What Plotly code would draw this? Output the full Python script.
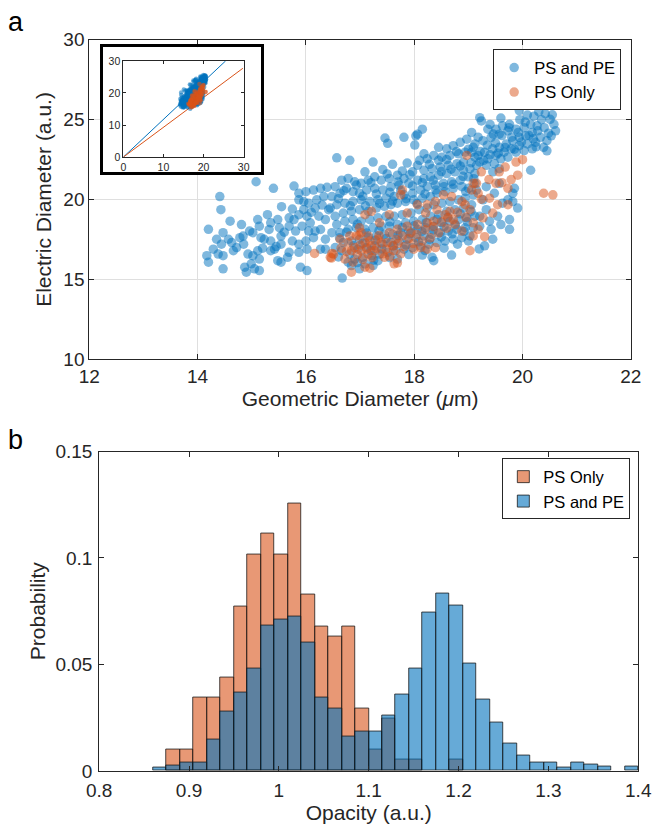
import plotly.graph_objects as go

# ---------------- data: scatter (Geometric vs Electric diameter) ----------------
ps_pe_xy = [
    (15.08,21.11),(15.40,20.70),(15.78,20.84),(14.41,20.18),(14.43,19.36),(15.87,20.39),(16.00,20.49),(16.14,20.59),(16.27,20.70),(16.39,20.76),
    (14.20,18.13),(14.60,18.64),(14.81,18.43),(14.47,17.92),(14.35,17.51),(14.57,17.51),(14.44,17.20),(14.29,16.89),(14.63,17.30),(14.78,17.61),
    (14.72,16.99),(14.17,16.48),(14.20,16.07),(14.38,16.58),(14.47,16.48),(14.66,16.79),(14.84,17.71),(14.96,18.02),(15.11,18.74),(15.14,18.33),
    (15.02,17.92),(15.17,17.61),(15.29,19.05),(15.35,18.54),(15.48,18.74),(15.32,18.12),(15.23,17.51),(15.35,17.40),(15.51,18.23),(15.54,17.71),
    (15.42,16.89),(15.35,16.79),(15.54,17.20),(15.69,18.85),(15.78,18.74),(15.87,19.05),(15.96,19.36),(16.02,18.95),(16.08,18.54),(16.17,19.46),
    (16.24,18.95),(16.36,18.74),(16.42,19.36),(15.69,18.33),(15.81,18.02),(15.93,18.33),(16.05,18.02),(16.17,18.02),(16.27,18.12),(16.36,17.51),
    (15.75,17.40),(15.87,17.20),(16.00,17.40),(16.14,17.61),(15.69,16.69),(15.87,16.69),(16.02,16.89),(16.27,16.89),(16.36,16.89),(14.93,16.58),
    (15.02,16.48),(15.11,16.79),(15.14,16.27),(14.99,15.97),(14.87,15.76),(15.05,15.66),(14.90,15.45),(15.14,15.55),(14.47,15.66),(15.48,16.17),
    (15.54,16.07),(15.66,16.38),(15.90,15.76),(16.02,15.55),(15.87,19.98),(15.96,19.87),(16.05,19.77),(16.20,19.98),(16.33,20.18),
    (17.46,23.85),(17.51,23.52),(17.81,23.89),(18.03,23.99),(18.01,23.41),(16.57,22.61),(16.81,22.45),(17.24,22.34),(17.09,21.73),(17.42,21.87),
    (17.60,22.20),(17.87,22.28),(17.78,21.79),(18.18,22.86),(18.24,22.55),(18.45,23.27),(18.60,23.17),(18.72,23.37),(18.85,23.58),(18.97,23.78),
    (19.09,23.27),(19.12,22.65),(18.36,22.76),(18.51,22.65),(18.66,22.76),(18.82,22.86),(18.94,22.96),(19.06,22.96),(18.91,22.34),(18.79,22.24),
    (18.63,22.14),(18.48,22.04),(18.33,21.93),(18.18,21.83),(18.06,22.14),(17.97,21.73),(17.81,21.32),(17.69,21.52),(17.54,21.32),(17.39,21.21),
    (17.27,21.42),(17.15,21.21),(17.02,21.01),(16.90,21.11),(16.78,21.32),(16.66,21.21),(16.54,20.80),(16.48,20.18),(16.63,20.39),(16.75,20.70),
    (16.87,20.49),(16.99,20.39),(17.12,20.60),(17.27,20.70),(17.42,20.60),(17.57,20.80),(17.72,20.90),(17.90,21.01),(18.06,21.21),(18.18,21.32),
    (18.30,21.42),(18.45,21.52),(18.60,21.62),(18.75,21.73),(18.91,21.83),(19.03,21.93),(19.12,21.62),(19.00,21.42),(18.85,21.21),(18.69,21.11),
    (18.54,21.01),(18.39,20.90),(18.24,20.80),(18.12,20.60),(17.97,20.39),(17.81,20.29),(17.63,20.18),(17.48,20.08),(17.33,19.98),(17.18,19.87),
    (17.02,19.98),(16.87,19.87),(16.72,19.77),(16.57,19.67),(16.45,19.46),(16.54,18.95),(16.69,19.15),(16.84,19.26),(16.99,19.36),(17.15,19.26),
    (17.30,19.46),(17.45,19.57),(17.57,19.67),(17.69,19.77),(17.84,19.87),(17.99,19.98),(18.15,20.08),(18.30,20.18),(18.42,20.39),(18.57,20.49),
    (18.72,20.70),(18.88,20.80),(19.00,20.70),(19.12,21.01),(19.09,20.29),(18.94,20.08),(18.82,19.98),(18.66,19.87),(18.51,19.77),(18.36,19.67),
    (18.24,19.46),(18.09,19.36),(17.94,19.15),(17.78,19.05),(17.63,18.95),(17.48,18.95),(17.33,18.85),(17.18,18.74),(17.02,18.64),(16.87,18.74),
    (16.72,18.64),(16.57,18.43),(16.48,17.92),(16.63,17.92),(16.78,18.13),(16.93,18.23),(17.09,18.13),(17.24,18.23),(17.39,18.33),(17.54,18.33),
    (17.69,18.43),(17.84,18.54),(17.99,18.64),(18.15,18.74),(18.30,18.95),(18.45,19.05),(18.60,19.26),(18.75,19.36),(18.91,19.46),(19.06,19.67),
    (19.12,18.95),(18.97,18.85),(18.82,18.74),(18.66,18.64),(18.51,18.54),(18.36,18.33),(18.21,18.23),(18.06,18.13),(17.90,18.02),(17.75,17.92),
    (17.60,17.82),(17.45,17.82),(17.30,17.72),(17.15,17.61),(16.99,17.51),(16.84,17.40),(16.69,17.30),(16.54,16.99),(16.66,16.79),(16.81,16.58),
    (16.96,16.89),(17.12,16.99),(17.27,17.10),(17.42,17.20),(17.57,17.30),(17.72,17.40),(17.87,17.51),(18.03,17.61),(18.18,17.72),(18.33,17.82),
    (18.48,17.92),(18.63,18.02),(18.79,18.13),(18.94,18.23),(19.09,18.23),(19.03,17.72),(18.88,17.61),(18.72,17.51),(18.57,17.40),(18.42,17.30),
    (18.27,17.20),(18.12,17.10),(17.97,16.99),(17.81,16.89),(17.66,16.79),(17.51,16.69),(17.36,16.58),(17.21,16.48),(17.05,16.38),(16.90,16.27),
    (16.78,16.07),(16.84,15.86),(17.09,15.97),(17.33,16.17),(17.69,16.27),(18.15,16.52),(18.33,16.38),(18.36,16.17),(18.69,16.52),(16.67,15.08),
    (16.99,15.66),(17.24,15.86),(18.15,24.40),(18.06,24.09),(19.20,16.90),(19.30,17.10),
    (19.94,25.57),(19.21,25.12),(19.24,24.92),(20.09,25.29),(20.21,25.22),(20.42,25.37),(20.51,25.02),(20.58,24.71),(20.61,24.30),(20.53,23.99),
    (20.45,23.68),(20.39,23.27),(20.27,24.61),(20.15,24.71),(20.03,24.50),(19.88,24.40),(19.73,24.30),(19.57,24.09),(19.42,23.89),(19.27,23.68),
    (19.12,23.48),(19.06,24.20),(19.36,24.40),(19.51,24.40),(19.63,24.61),(19.76,24.71),(20.18,24.20),(20.06,23.99),(19.94,23.89),(19.82,23.68),
    (19.70,23.48),(19.57,23.27),(19.45,23.17),(19.30,22.96),(19.18,22.76),(19.21,22.34),(19.36,22.55),(19.51,22.76),(19.66,22.96),(19.79,23.17),
    (19.94,23.37),(20.09,23.48),(20.24,23.58),(20.33,23.89),(20.18,23.17),(20.03,23.06),(19.88,22.96),(19.73,22.65),(19.60,22.55),(19.48,22.24),
    (19.45,21.73),(19.57,21.93),(19.33,22.14),(19.15,22.14),(20.15,21.83),(19.85,20.70),(19.82,20.39),(19.73,19.98),(19.63,19.77),(19.82,19.87),
    (19.91,19.46),(19.76,18.74),(19.54,18.95),(19.39,18.64),(19.21,18.95),(19.21,18.33),(19.76,18.13),(19.42,18.13),(19.45,17.51),(19.60,18.43),
    (19.33,19.36),(19.48,20.39),(19.27,19.98),(19.57,21.01),(19.33,20.80),(19.15,20.59),
    # denser parts of the upper band
    (16.60,20.05),(16.70,20.55),(16.82,19.60),(16.93,20.90),(17.05,20.20),(17.10,19.60),(17.20,21.05),(17.30,20.35),(17.36,19.75),(17.50,21.60),
    (17.55,20.45),(17.60,19.90),(17.70,21.10),(17.75,20.55),(17.85,20.05),(17.92,21.55),(17.97,20.85),(18.05,19.75),(18.10,22.45),(18.15,21.05),
    (18.20,20.35),(18.28,22.20),(18.35,21.20),(18.40,20.60),(18.45,22.45),(18.50,21.75),(18.55,20.80),(18.60,22.50),(18.68,21.90),(18.72,20.95),
    (18.78,23.00),(18.85,22.10),(18.90,21.45),(18.95,20.50),(19.00,23.15),(19.05,22.30),(19.10,21.30),(19.18,23.90),(19.22,23.00),(19.28,22.45),
    (19.35,23.40),(19.40,22.80),(19.46,24.10),(19.50,23.55),(19.55,22.90),(19.62,24.00),(19.68,23.25),(19.75,24.50),(19.80,23.90),(19.85,23.15),
    (19.92,24.20),(19.98,23.60),(20.05,24.85),(20.12,24.00),(20.20,23.80),(20.28,24.30),(20.35,25.00),(20.40,24.50),(20.48,24.15),(20.55,25.30),
    (19.95,25.00),(20.30,25.50),(19.60,25.10),(19.40,24.70),(20.45,23.05),(20.25,23.30),
    # denser parts of the lower band
    (16.62,17.60),(16.75,17.95),(16.88,17.10),(16.95,18.45),(17.05,17.25),(17.12,17.90),(17.20,16.80),(17.28,17.45),(17.35,18.05),(17.40,16.90),
    (17.48,17.55),(17.55,18.60),(17.62,17.10),(17.70,17.75),(17.78,18.25),(17.85,17.15),(17.92,17.85),(18.00,18.35),(18.08,17.35),(18.14,18.00),
    (18.22,18.55),(18.28,17.50),(18.35,18.10),(18.42,18.75),(18.50,17.65),(18.55,18.30),(18.62,18.90),(18.70,17.85),(18.76,18.40),(18.85,19.10),
    (18.92,18.00),(18.98,18.60),(19.05,19.25),(19.00,17.40),(18.80,17.20),(18.55,16.95),(18.20,16.80),(17.90,16.55),(17.55,16.35),(17.25,16.20),
    (16.95,16.05),(16.60,16.40),
    (15.60,17.95),(15.45,17.05),(15.20,16.95),(14.85,17.20),(15.75,19.40),(16.10,19.20),(16.30,19.65),(15.55,19.55),
]

ps_only_xy = [
    (16.16,16.62),(16.48,16.62),(16.47,16.33),
    (18.97,22.76),(19.09,21.01),(19.06,20.60),(18.88,19.87),(18.94,19.67),(19.03,19.36),(18.54,20.29),(18.69,20.18),(18.39,19.87),(18.24,19.67),
    (18.06,19.67),(17.87,19.15),(17.78,20.60),(17.75,20.29),(17.54,19.05),(17.21,19.26),(17.09,19.05),(17.36,18.54),(16.99,18.23),(17.02,17.92),
    (16.93,17.72),(17.15,17.72),(17.09,17.30),(17.21,17.10),(17.27,16.79),(17.15,16.58),(17.02,16.79),(16.90,16.99),(16.78,17.30),(16.84,16.79),
    (16.72,16.27),(16.87,16.07),(16.51,16.58),(16.45,16.38),(17.09,15.76),(17.18,15.70),(17.63,15.97),(17.69,16.03),(16.84,15.45),(17.39,17.30),
    (17.48,16.89),(17.60,17.10),(17.66,17.51),(17.78,17.72),(17.94,17.92),(17.87,18.33),(18.06,18.43),(18.24,18.54),(18.36,18.64),(18.21,19.15),
    (18.42,19.36),(18.57,19.05),(18.66,19.26),(18.72,18.74),(18.88,18.02),(19.09,18.54),(19.09,17.72),(19.03,16.79),(17.99,16.89),(18.12,16.99),
    (18.24,16.89),(18.39,16.99),(17.45,16.38),(17.33,17.51),(17.54,17.92),(17.69,18.13),(16.81,17.72),(16.63,17.51),
    (19.88,22.34),(20.00,22.49),(19.24,21.73),(19.38,21.25),(19.51,21.01),(19.62,21.05),(19.79,21.25),(19.91,21.52),(19.73,20.70),(19.68,22.03),
    (19.57,21.73),(19.15,21.01),(19.18,20.39),(19.24,20.02),(19.54,19.67),(19.45,19.15),(19.27,18.85),(19.18,18.13),(19.30,17.67),(20.39,20.39),
    (20.56,20.29),(19.39,20.08),(19.73,19.67),
    (16.95,16.55),(17.00,17.15),(17.05,16.25),(17.12,16.90),(17.18,17.40),(17.22,16.35),(17.30,16.95),(17.35,17.75),(17.42,16.60),(17.50,17.30),
    (17.55,16.45),(17.62,16.80),(17.70,17.25),(17.75,16.60),(17.82,17.05),(17.90,17.55),(17.98,17.25),(18.05,17.80),(18.15,17.40),(18.20,18.10),
    (18.30,17.60),(18.35,18.30),(18.45,17.90),(18.50,18.60),(18.60,18.20),(18.62,18.85),(18.75,18.45),(18.80,19.20),(18.95,18.90),(16.98,17.75),
    (16.75,16.75),(16.65,16.95),
]

# fitted lines shown in the inset (from origin)
fit_ps_pe_x = [0, 25.5]
fit_ps_pe_y = [0, 30]
fit_ps_only_x = [0, 29.8]
fit_ps_only_y = [0, 27.7]

# ---------------- data: opacity histograms (probability) ----------------
bin_left = [0.860, 0.875, 0.890, 0.905, 0.920, 0.935, 0.950, 0.965, 0.980, 0.995,
            1.010, 1.025, 1.040, 1.055, 1.070, 1.085, 1.100, 1.115, 1.130, 1.145,
            1.160, 1.175, 1.190, 1.205, 1.220, 1.235, 1.250, 1.265, 1.280, 1.295,
            1.310, 1.325, 1.340, 1.355, 1.370, 1.385]
bin_width = 0.015
prob_ps_only = [0, 0.0100, 0.0100, 0.0343, 0.0343, 0.0440, 0.0773, 0.1017, 0.1113, 0.1017,
                0.1255, 0.0826, 0.0677, 0.0631, 0.0677, 0.0293, 0.0100, 0.0244, 0.0054, 0.0054,
                0, 0, 0.0054, 0, 0, 0, 0, 0, 0, 0,
                0, 0, 0, 0, 0, 0]
prob_ps_pe = [0.0017, 0.0023, 0.0040, 0.0040, 0.0147, 0.0278, 0.0366, 0.0481, 0.0685, 0.0711,
              0.0727, 0.0605, 0.0343, 0.0293, 0.0162, 0.0185, 0.0185, 0.0262, 0.0358, 0.0481,
              0.0744, 0.0835, 0.0778, 0.0503, 0.0335, 0.0227, 0.0128, 0.0073, 0.0038, 0.0038,
              0.0017, 0.0038, 0.0029, 0.0020, 0, 0.0020]

x_ticks_a = [12, 14, 16, 18, 20, 22]
y_ticks_a = [10, 15, 20, 25, 30]
x_ticks_b = [0.8, 0.9, 1.0, 1.1, 1.2, 1.3, 1.4]
x_ticktext_b = ["0.8", "0.9", "1", "1.1", "1.2", "1.3", "1.4"]
y_ticks_b = [0, 0.05, 0.1, 0.15]
y_ticktext_b = ["0", "0.05", "0.1", "0.15"]
inset_ticks = [0, 10, 20, 30]

# ---------------- style / layout helpers ----------------
W, H = 661, 835
FONT = "Liberation Sans, Arial, Helvetica, sans-serif"
AX = "#262626"
BLUE = "rgba(0,114,189,0.5)"
ORANGE = "rgba(217,83,25,0.5)"


def px_x(p):
    return p / W


def px_y(p):
    return 1 - p / H


bx = [p[0] for p in ps_pe_xy]
by = [p[1] for p in ps_pe_xy]
ox = [p[0] for p in ps_only_xy]
oy = [p[1] for p in ps_only_xy]

fig = go.Figure()

# main scatter
fig.add_trace(go.Scatter(x=bx, y=by, mode="markers", name="PS and PE",
                         marker=dict(size=9.5, color=BLUE, line=dict(width=0)),
                         xaxis="x", yaxis="y", legend="legend"))
fig.add_trace(go.Scatter(x=ox, y=oy, mode="markers", name="PS Only",
                         marker=dict(size=9.5, color=ORANGE, line=dict(width=0)),
                         xaxis="x", yaxis="y", legend="legend"))

# histogram (orange first, blue on top)
centers = [b + bin_width / 2 for b in bin_left]
edge = dict(color="rgba(20,20,20,0.85)", width=0.9)
fig.add_trace(go.Bar(x=centers, y=[v if v > 0 else None for v in prob_ps_only], width=bin_width,
                     name="PS Only", marker=dict(color="rgba(217,83,25,0.6)", line=edge),
                     xaxis="x2", yaxis="y2", legend="legend2"))
fig.add_trace(go.Bar(x=centers, y=[v if v > 0 else None for v in prob_ps_pe], width=bin_width,
                     name="PS and PE", marker=dict(color="rgba(0,114,189,0.6)", line=edge),
                     xaxis="x2", yaxis="y2", legend="legend2"))

# inset frame (empty subplot providing white background + thick border)
fig.add_trace(go.Scatter(x=[], y=[], xaxis="x3", yaxis="y3", showlegend=False))

# inset content
fig.add_trace(go.Scatter(x=fit_ps_pe_x, y=fit_ps_pe_y, mode="lines", line=dict(color="#0072BD", width=1),
                         xaxis="x4", yaxis="y4", showlegend=False))
fig.add_trace(go.Scatter(x=fit_ps_only_x, y=fit_ps_only_y, mode="lines", line=dict(color="#D95319", width=1),
                         xaxis="x4", yaxis="y4", showlegend=False))
fig.add_trace(go.Scatter(x=bx, y=by, mode="markers", marker=dict(size=4.5, color="rgba(0,114,189,0.55)"),
                         xaxis="x4", yaxis="y4", showlegend=False))
fig.add_trace(go.Scatter(x=ox, y=oy, mode="markers", marker=dict(size=4.5, color="rgba(217,83,25,0.55)"),
                         xaxis="x4", yaxis="y4", showlegend=False))

tickfont = dict(family=FONT, size=19, color=AX)
titlefont = dict(family=FONT, size=21, color=AX)

common = dict(showline=True, linecolor=AX, linewidth=1, mirror="ticks", ticks="inside",
              ticklen=5, tickcolor=AX, zeroline=False, tickfont=tickfont, automargin=False)
inset_common = dict(range=[0, 30], tickvals=inset_ticks, showline=True, linecolor=AX, linewidth=1,
                    mirror="ticks", ticks="inside", ticklen=3, tickcolor=AX, showgrid=False,
                    zeroline=False, tickfont=dict(family=FONT, size=10.5, color=AX))
frame_common = dict(range=[0, 1], showline=True, mirror=True, linecolor="black", linewidth=2.5,
                    showticklabels=False, ticks="", showgrid=False, zeroline=False, fixedrange=True)
legend_common = dict(xanchor="right", yanchor="top", bgcolor="white", bordercolor=AX, borderwidth=1,
                     font=dict(family=FONT, size=16.5, color="black"), tracegroupgap=0, itemwidth=30)

fig.update_layout(
    width=W, height=H,
    margin=dict(l=0, r=0, t=0, b=0),
    paper_bgcolor="white", plot_bgcolor="white",
    showlegend=True,
    barmode="overlay", bargap=0,
    font=dict(family=FONT, color=AX),
    xaxis=dict(domain=[px_x(87.5), px_x(636.5)], anchor="y", range=[12, 22],
               tickvals=x_ticks_a, showgrid=True, gridcolor="#dfdfdf",
               title=dict(text="Geometric Diameter (<i>μ</i>m)", font=titlefont, standoff=2), **common),
    yaxis=dict(domain=[px_y(358.3), px_y(34.3)], anchor="x", range=[10, 30],
               tickvals=y_ticks_a, showgrid=True, gridcolor="#dfdfdf",
               title=dict(text="Electric Diameter (a.u.)", font=titlefont, standoff=6), **common),
    xaxis2=dict(domain=[px_x(97.5), px_x(644)], anchor="y2", range=[0.8, 1.4],
                tickvals=x_ticks_b, ticktext=x_ticktext_b, showgrid=False, ticklabelstandoff=2,
                title=dict(text="Opacity (a.u.)", font=titlefont, standoff=2), **common),
    yaxis2=dict(domain=[px_y(776), px_y(452)], anchor="x2", range=[0, 0.15],
                tickvals=y_ticks_b, ticktext=y_ticktext_b, showgrid=False, ticklabelstandoff=2,
                title=dict(text="Probability", font=titlefont, standoff=4), **common),
    xaxis3=dict(domain=[px_x(101.5), px_x(262)], anchor="y3", **frame_common),
    yaxis3=dict(domain=[px_y(168), px_y(42)], anchor="x3", **frame_common),
    xaxis4=dict(domain=[px_x(122), px_x(244)], anchor="y4", **inset_common),
    yaxis4=dict(domain=[px_y(153.3), px_y(55.7)], anchor="x4", **inset_common),
    legend=dict(x=px_x(626.7), y=px_y(44), **legend_common),
    legend2=dict(x=px_x(636), y=px_y(459), **legend_common),
    annotations=[
        dict(text="a", x=px_x(4), y=px_y(0), xref="paper", yref="paper", xanchor="left", yanchor="top",
             showarrow=False, borderpad=0, font=dict(family=FONT, size=27, color="black")),
        dict(text="b", x=px_x(4), y=px_y(424), xref="paper", yref="paper", xanchor="left", yanchor="top",
             showarrow=False, borderpad=0, font=dict(family=FONT, size=27, color="black")),
    ],
)

# remove the default 8px page margin so the figure fills the 661x835 window exactly,
# and hide the interactive mode bar
fig.write_html("out.html", config={"displayModeBar": False},
               post_script="document.body.style.margin='0px';")
